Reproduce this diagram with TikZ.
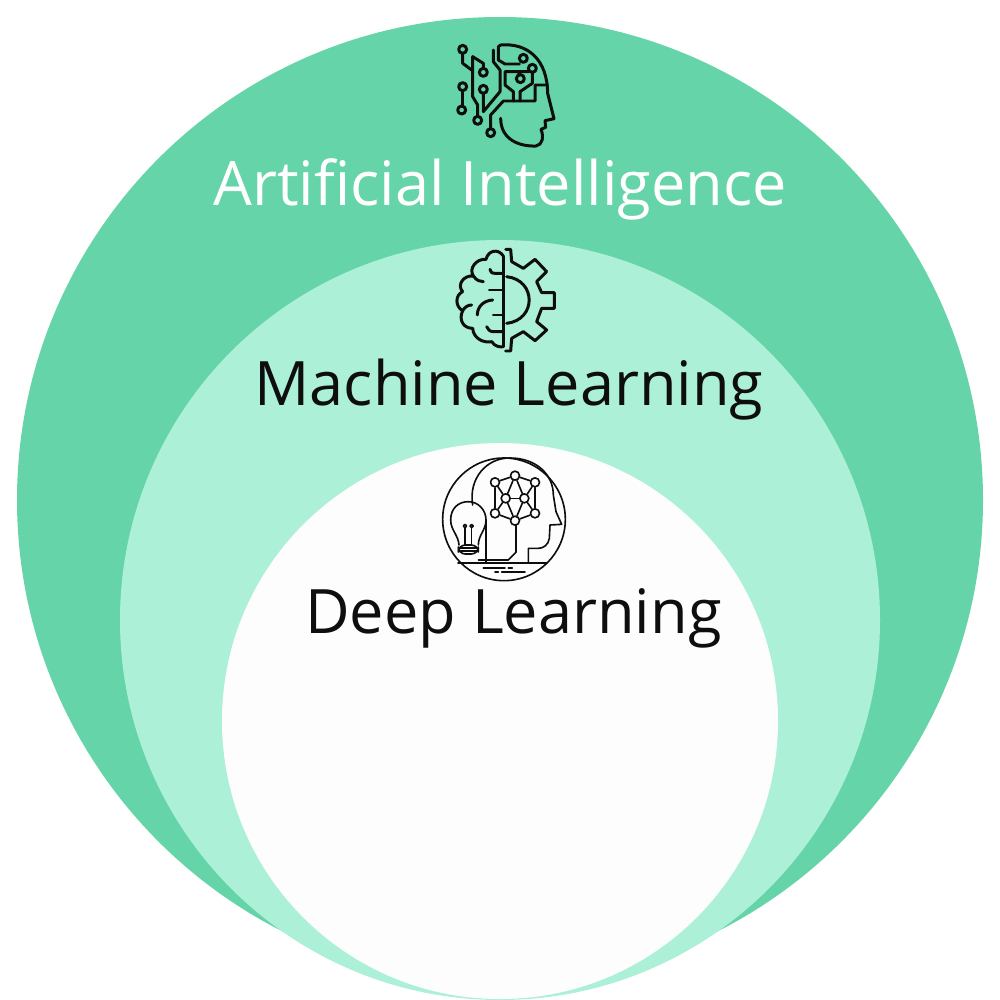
\documentclass[tikz,border=0pt]{standalone}
\usepackage{fontspec}
\setmainfont{Open Sans}
\definecolor{aigreen}{HTML}{66D4A9}
\definecolor{mlgreen}{HTML}{ADF0D8}
\definecolor{dlwhite}{HTML}{FDFDFD}
\definecolor{inkblack}{HTML}{0E0E0E}
\tikzset{
  iconline/.style={draw=inkblack,line width=.85pt,line cap=round,line join=round},
  thinline/.style={draw=inkblack,line width=.46pt,line cap=round,line join=round},
  title/.style={anchor=base,inner sep=0pt,font=\fontsize{17.42}{18}\selectfont},
}

\begin{document}
\begin{tikzpicture}[x=.01cm,y=-.01cm]
\useasboundingbox (0,0) rectangle (1000,1000);
% circles
\fill[aigreen] (500,500) circle [radius=483];
\fill[mlgreen] (500,620) circle [radius=380];
\fill[dlwhite] (500,721) circle [radius=278];

\node[title,text=white] (AI) at (500,205) {Artificial Intelligence};
\node[title,text=inkblack] (ML) at (509,405) {Machine Learning};
\node[title,text=inkblack] (DL) at (513.5,633) {Deep Learning};

% head with circuits
\begin{scope}[shift={(430,30)},scale=1/3,iconline]
\draw (205,50) -- (212,45) .. controls (295,38) and (352,90) .. (353,190) -- (372,266) -- (345,272) -- (347,292) -- (333,298) .. controls (342,320) and (338,345) .. (318,348) .. controls (270,350) and (212,330) .. (212,265);
\draw (98,58) circle [radius=12];
\draw (98,70) -- (98,100) -- (125,120);
\draw (128,80) -- (160,100) -- (160,115);
\draw (128,80) -- (128,200) -- (143,225) -- (143,259);
\draw (160,127) circle [radius=12];
\draw (98,170) circle [radius=12];
\draw (98,182) -- (98,228);
\draw (95,240) circle [radius=12];
\draw (160,178) circle [radius=12];
\draw (160,190) -- (160,245) -- (210,185) -- (210,120) -- (190,95) -- (190,60);
\draw (143,271) circle [radius=12];
\draw (182,308) circle [radius=12];
\draw (182,296) -- (182,255) -- (220,213) -- (315,213) -- (315,165) -- (352,165);
\draw (205,50) -- (205,90) -- (225,102) -- (268,102);
\draw (280,85) circle [radius=12];
\draw (250,213) -- (250,185) -- (225,165) -- (225,125) -- (295,125);
\draw (307,115) circle [radius=12];
\draw (271,146) circle [radius=12];
\draw (264,125) -- (271,134);
\draw (307,127) -- (307,160) -- (270,185) -- (270,213);
\end{scope}

% brain with gear
\begin{scope}[shift={(440,240)},scale=1/3,iconline]
\draw (190,48) -- (190,320);
\draw (197,28) -- (212,28) -- (215,65) -- (250,85) -- (285,58) -- (320,95) -- (290,125) -- (305,158) -- (343,158) -- (343,205) -- (305,205) -- (290,245) -- (320,270) -- (285,302) -- (250,275) -- (215,295) -- (212,333) -- (197,333);
\draw (200,110) .. controls (290,120) and (290,240) .. (200,250);
\draw (190,48) .. controls (175,25) and (145,30) .. (138,58) .. controls (110,55) and (85,85) .. (100,108) .. controls (70,105) and (50,135) .. (68,155) .. controls (45,165) and (45,200) .. (68,212) .. controls (55,240) and (70,265) .. (98,265) .. controls (100,295) and (130,310) .. (155,305) .. controls (165,320) and (180,322) .. (190,320);
\draw (190,100) -- (165,100) .. controls (155,100) and (150,95) .. (150,88);
\draw (190,150) -- (148,150);
\draw (158,180) .. controls (130,182) and (112,200) .. (112,225);
\draw (190,225) -- (160,225);
\draw (190,275) -- (160,275) .. controls (150,275) and (142,268) .. (140,260);
\draw (100,108) .. controls (110,122) and (120,125) .. (130,125);
\draw (68,212) .. controls (75,200) and (85,195) .. (95,195);
\end{scope}

% head with bulb and network
\begin{scope}[shift={(430,445)},scale=1/3,thinline]
\draw (222,223) circle [radius=184];
\draw (128,180) .. controls (115,100) and (170,38) .. (240,39) .. controls (320,39) and (370,90) .. (370,150) -- (378,200) -- (395,238) -- (360,240) -- (358,280) .. controls (355,300) and (340,310) .. (325,310) -- (295,310) -- (295,354);
\draw (87,300) .. controls (85,270) and (62,255) .. (62,225) .. controls (62,190) and (85,170) .. (115,170) .. controls (145,170) and (168,195) .. (168,225) .. controls (168,255) and (145,270) .. (145,300);
\draw[rounded corners=2] (85,300) rectangle (145,327);
\draw (85,309) -- (145,309);
\draw (85,318) -- (145,318);
\draw (105,300) -- (105,248);
\draw (125,300) -- (125,248);
\draw (105,243) circle [radius=5];
\draw (125,243) circle [radius=5];
\draw (168,225) -- (168,354);
\draw (145,345) -- (235,345) -- (258,322) -- (258,241);
\draw (84,354) -- (351,354);
\draw (160,369) -- (225,369);
\draw (235,369) -- (247,369);
\draw (195,381) -- (205,381);
\draw (215,381) -- (285,381);
\begin{scope}[every node/.style={circle,thinline,inner sep=0pt,minimum size=.09cm}]
\node (N1) at (195,112) {};
\node (N2) at (255,92) {};
\node (N3) at (315,112) {};
\node (N4) at (227,160) {};
\node (N5) at (283,160) {};
\node (N6) at (195,205) {};
\node (N7) at (315,205) {};
\node (N8) at (255,227) {};
\end{scope}
\path (N1) edge (N2);
\path (N2) edge (N3);
\path (N1) edge (N4);
\path (N3) edge (N5);
\path (N2) edge (N4);
\path (N2) edge (N5);
\path (N4) edge (N5);
\path (N1) edge (N6);
\path (N3) edge (N7);
\path (N4) edge (N6);
\path (N5) edge (N7);
\path (N6) edge (N8);
\path (N7) edge (N8);
\path (N4) edge (N8);
\path (N5) edge (N8);
\end{scope}
\end{tikzpicture}
\end{document}
